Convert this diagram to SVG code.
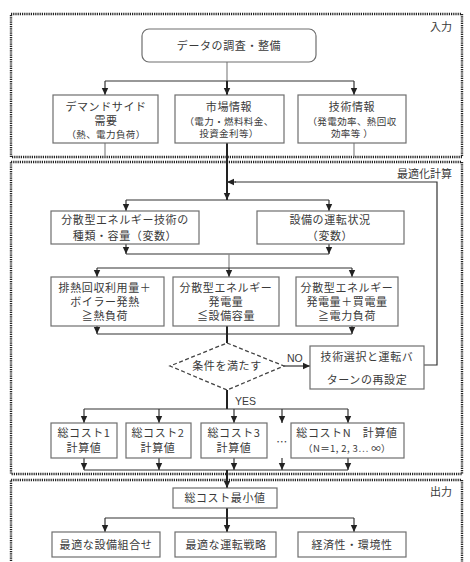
<svg xmlns="http://www.w3.org/2000/svg" width="470" height="562" viewBox="0 0 470 562">
  <style>
    text { font-family: "Noto Sans CJK JP", "Noto Sans", sans-serif; fill: #3a3a3a; text-anchor: middle; }
    .t { font-size: 11px; letter-spacing: 0.6px; }
    .s { font-size: 9.5px; letter-spacing: 0.4px; }
    .lbl { font-size: 11px; text-anchor: end; }
    .yn { font-family: "Liberation Sans Narrow", "Liberation Sans", sans-serif; font-size: 10.5px; text-anchor: start; }
    .box { fill: #fff; stroke: #6e6e6e; stroke-width: 1.2; }
    .frame { fill: none; stroke: #222; stroke-width: 2.4; stroke-dasharray: 1.2 1; }
    .ln { fill: none; stroke: #333; stroke-width: 1.2; }
    .gl { fill: none; stroke: #888; stroke-width: 1.2; }
    .bd { fill: none; stroke: #222; stroke-width: 2; }
    .arr { marker-end: url(#ah); }
  </style>
  <defs>
    <marker id="ah" markerUnits="userSpaceOnUse" markerWidth="8" markerHeight="8" viewBox="0 0 8 8" refX="7" refY="4" orient="auto">
      <path d="M0,0.8 L7,4 L0,7.2 Z" fill="#222"/>
    </marker>
  </defs>

  <!-- phase frames -->
  <g id="frames">
    <rect class="frame" x="11" y="14" width="451" height="143"/>
    <rect class="frame" x="11" y="162" width="451" height="312"/>
    <rect class="frame" x="11" y="480" width="451" height="90"/>
    <text class="lbl" x="452" y="31">入力</text>
    <text class="lbl" x="452" y="178">最適化計算</text>
    <text class="lbl" x="452" y="496">出力</text>
  </g>

  <!-- connectors -->
  <g id="connectors">
    <!-- input stage -->
    <line class="gl" x1="227" y1="62" x2="227" y2="81"/>
    <line class="ln" x1="105" y1="81" x2="354" y2="81"/>
    <line class="ln arr" x1="105" y1="81" x2="105" y2="95"/>
    <line class="bd arr" x1="227" y1="81" x2="227" y2="95"/>
    <line class="ln arr" x1="354" y1="81" x2="354" y2="95"/>
    <line class="gl" x1="105" y1="143" x2="105" y2="157"/>
    <line class="gl" x1="354" y1="143" x2="354" y2="157"/>
    <line class="bd arr" x1="227" y1="143" x2="227" y2="200"/>

    <!-- feedback loop -->
    <polyline class="ln" points="424,365 437,365 437,182 235,182"/>
    <line class="ln arr" x1="236" y1="182" x2="227" y2="182"/>

    <!-- variables -->
    <line class="ln" x1="126" y1="200" x2="329" y2="200"/>
    <line class="ln arr" x1="126" y1="200" x2="126" y2="211"/>
    <line class="ln arr" x1="329" y1="200" x2="329" y2="211"/>
    <line class="ln arr" x1="126" y1="244" x2="126" y2="254"/>
    <line class="ln arr" x1="329" y1="244" x2="329" y2="254"/>
    <line class="ln" x1="126" y1="254" x2="329" y2="254"/>
    <line class="gl" x1="229" y1="254" x2="229" y2="268"/>

    <!-- constraints -->
    <line class="ln" x1="97" y1="268" x2="352" y2="268"/>
    <line class="ln arr" x1="97" y1="268" x2="97" y2="277"/>
    <line class="ln arr" x1="229" y1="268" x2="229" y2="277"/>
    <line class="ln arr" x1="352" y1="268" x2="352" y2="277"/>
    <line class="ln arr" x1="97" y1="326" x2="97" y2="334"/>
    <line class="ln arr" x1="352" y1="326" x2="352" y2="334"/>
    <line class="ln" x1="97" y1="334" x2="352" y2="334"/>
    <line class="bd" x1="227" y1="326" x2="227" y2="343"/>

    <!-- decision -->
    <line class="ln arr" x1="284" y1="366" x2="310" y2="366"/>
    <text class="yn" x="287" y="362">NO</text>
    <line class="bd" x1="227" y1="390" x2="227" y2="409"/>
    <text class="yn" x="235" y="405">YES</text>

    <!-- cost calculation -->
    <line class="ln" x1="84" y1="409" x2="348" y2="409"/>
    <line class="ln arr" x1="84" y1="409" x2="84" y2="423"/>
    <line class="ln arr" x1="159" y1="409" x2="159" y2="423"/>
    <line class="ln arr" x1="234" y1="409" x2="234" y2="423"/>
    <line class="ln arr" x1="282" y1="409" x2="282" y2="423"/>
    <line class="ln arr" x1="348" y1="409" x2="348" y2="423"/>
    <line class="ln arr" x1="84" y1="458" x2="84" y2="470"/>
    <line class="ln arr" x1="159" y1="458" x2="159" y2="470"/>
    <line class="ln arr" x1="234" y1="458" x2="234" y2="470"/>
    <line class="ln arr" x1="282" y1="458" x2="282" y2="470"/>
    <line class="ln arr" x1="348" y1="458" x2="348" y2="470"/>
    <line class="ln" x1="84" y1="470" x2="348" y2="470"/>
    <line class="bd arr" x1="227" y1="470" x2="227" y2="488"/>

    <!-- output stage -->
    <line class="bd" x1="227" y1="508" x2="227" y2="518"/>
    <line class="ln" x1="105" y1="518" x2="354" y2="518"/>
    <line class="ln arr" x1="105" y1="518" x2="105" y2="532"/>
    <line class="bd arr" x1="227" y1="518" x2="227" y2="532"/>
    <line class="ln arr" x1="354" y1="518" x2="354" y2="532"/>
  </g>

  <!-- input nodes -->
  <g id="n-data">
    <rect class="box" x="142" y="29" width="174" height="33" rx="7"/>
    <text class="t" x="229" y="50">データの調査・整備</text>
  </g>
  <g id="n-demand">
    <rect class="box" x="53" y="95" width="105" height="48"/>
    <text class="t" x="106" y="111">デマンドサイド<tspan x="106" dy="14">需要</tspan><tspan class="s" x="106" dy="13">（熱、電力負荷）</tspan></text>
  </g>
  <g id="n-market">
    <rect class="box" x="175" y="95" width="109" height="48"/>
    <text class="t" x="229" y="111">市場情報<tspan class="s" x="229" dy="14">（電力・燃料料金、</tspan><tspan class="s" x="229" dy="12">投資金利等）</tspan></text>
  </g>
  <g id="n-tech">
    <rect class="box" x="298" y="95" width="108" height="48"/>
    <text class="t" x="352" y="111">技術情報<tspan class="s" x="352" dy="14">（発電効率、熱回収</tspan><tspan class="s" x="352" dy="12">効率等 ）</tspan></text>
  </g>

  <!-- optimisation nodes -->
  <g id="n-type">
    <rect class="box" x="51" y="211" width="148" height="33"/>
    <text class="t" x="125" y="224">分散型エネルギー技術の<tspan x="125" dy="16">種類・容量（変数）</tspan></text>
  </g>
  <g id="n-operation">
    <rect class="box" x="257" y="211" width="147" height="33"/>
    <text class="t" x="330" y="224">設備の運転状況<tspan x="330" dy="16">（変数）</tspan></text>
  </g>
  <g id="n-heat">
    <rect class="box" x="51" y="277" width="113" height="49"/>
    <text class="t" x="105" y="292">排熱回収利用量＋<tspan x="105" dy="14">ボイラー発熱</tspan><tspan x="105" dy="14">≧熱負荷</tspan></text>
  </g>
  <g id="n-gen">
    <rect class="box" x="173" y="277" width="106" height="49"/>
    <text class="t" x="226" y="292">分散型エネルギー<tspan x="226" dy="14">発電量</tspan><tspan x="226" dy="14">≦設備容量</tspan></text>
  </g>
  <g id="n-power">
    <rect class="box" x="296" y="277" width="102" height="49"/>
    <text class="t" x="347" y="292">分散型エネルギー<tspan x="347" dy="14">発電量＋買電量</tspan><tspan x="347" dy="14">≧電力負荷</tspan></text>
  </g>
  <g id="n-check">
    <polygon points="227,343 284,366 227,390 170,366" fill="#fff" stroke="#444" stroke-width="1.3" stroke-dasharray="4 2.5"/>
    <text class="t" x="227" y="370">条件を満たす</text>
  </g>
  <g id="n-reset">
    <rect class="box" x="310" y="346" width="114" height="43"/>
    <text class="t" x="367" y="361">技術選択と運転バ<tspan x="367" dy="23">ターンの再設定</tspan></text>
  </g>
  <g id="n-cost1">
    <rect class="box" x="51" y="423" width="66" height="35"/>
    <text class="t" x="84" y="437">総コスト1<tspan x="84" dy="15">計算値</tspan></text>
  </g>
  <g id="n-cost2">
    <rect class="box" x="126" y="423" width="65" height="35"/>
    <text class="t" x="158" y="437">総コスト2<tspan x="158" dy="15">計算値</tspan></text>
  </g>
  <g id="n-cost3">
    <rect class="box" x="201" y="423" width="66" height="35"/>
    <text class="t" x="234" y="437">総コスト3<tspan x="234" dy="15">計算値</tspan></text>
  </g>
  <text class="t" x="282" y="446">⋯</text>
  <g id="n-costN">
    <rect class="box" x="291" y="423" width="113" height="35"/>
    <text class="t" x="347" y="437">総コストN　計算値<tspan class="s" x="347" dy="15">（N＝1, 2, 3⋯ ∞）</tspan></text>
  </g>

  <!-- output nodes -->
  <g id="n-min">
    <rect class="box" x="173" y="488" width="104" height="20"/>
    <text class="t" x="225" y="502">総コスト最小値</text>
  </g>
  <g id="n-equip">
    <rect class="box" x="52" y="532" width="108" height="25"/>
    <text class="t" x="106" y="549">最適な設備組合せ</text>
  </g>
  <g id="n-strategy">
    <rect class="box" x="175" y="532" width="101" height="25"/>
    <text class="t" x="226" y="549">最適な運転戦略</text>
  </g>
  <g id="n-econ">
    <rect class="box" x="298" y="532" width="108" height="25"/>
    <text class="t" x="352" y="549">経済性・環境性</text>
  </g>
</svg>
